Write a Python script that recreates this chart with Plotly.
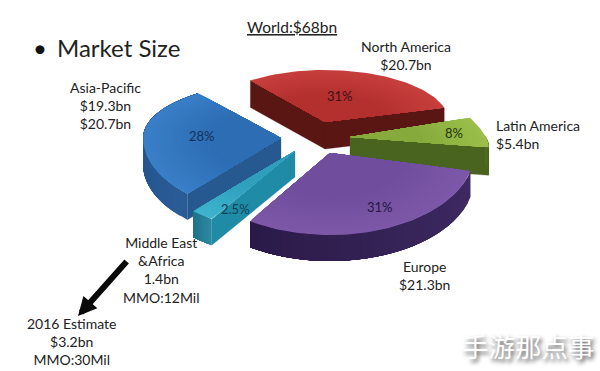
import math
import plotly.graph_objects as go

# ---- data
regions = ["North America", "Latin America", "Europe", "Middle East & Africa", "Asia-Pacific"]
shares = [31, 8, 31, 2.5, 28]
share_labels = ["31%", "8%", "31%", "2.5%", "28%"]
callouts = [
    "North America<br>$20.7bn",
    "Latin America<br>$5.4bn",
    "Europe<br>$21.3bn",
    "Middle East<br>&Africa<br>1.4bn<br>MMO:12Mil",
    "Asia-Pacific<br>$19.3bn<br>$20.7bn",
]
estimate_text = "2016 Estimate<br>$3.2bn<br>MMO:30Mil"
title_text = "<u>World:$68bn</u>"
bullet_text = "Market Size"
watermark = "手游那点事"

# ---- drawing layout (pixel space of the 600x371 page)
START_ANGLE = 127
geom = {  # apex x, apex y, rx, ry back, ry front, depth, shear
    "North America": (325, 122, 124, 52, 60, 27, 0),
    "Latin America": (350, 137, 136, 72, 47, 28, 0.58),
    "Europe": (330, 153, 144, 60, 82, 26, 0),
    "Middle East & Africa": (295, 151, 150, 82, 82, 26, 0),
    "Asia-Pacific": (281, 138, 138, 56, 76, 26, 0),
}
style = {  # top edge, top centre, side light, side dark, radial face, label colour
    "North America": ("#c8403e", "#b3302f", "#7a1f1c", "#4e1210", "#5a1613", "#3c0f10"),
    "Latin America": ("#9cc04a", "#86ab3c", "#5a7a28", "#46621e", "#48641f", "#24340c"),
    "Europe": ("#7e58a8", "#704e9d", "#3f2a63", "#2a1a48", "#2a1a48", "#241545"),
    "Middle East & Africa": ("#3fb4cf", "#2f9fbd", "#2c8ba4", "#1f7189", "#1f8ba6", "#123f55"),
    "Asia-Pacific": ("#3a80c8", "#2d6db4", "#2a5c97", "#1c4a80", "#25598f", "#12305c"),
}
label_pos = {
    "North America": (340, 96),
    "Latin America": (454, 133),
    "Europe": (380, 207),
    "Middle East & Africa": (235, 209),
    "Asia-Pacific": (202, 136),
}
callout_pos = {  # x, y, anchor
    "North America": (406, 55, "center"),
    "Latin America": (494, 134, "left"),
    "Europe": (424, 275, "center"),
    "Middle East & Africa": (161, 270, "center"),
    "Asia-Pacific": (105, 105, "center"),
}
draw_order = ["North America", "Latin America", "Asia-Pacific", "Middle East & Africa", "Europe"]


def rgb(h):
    return tuple(int(h[i:i + 2], 16) for i in (1, 3, 5))


def mix(a, b, t):
    ca, cb = rgb(a), rgb(b)
    return "rgb(%d,%d,%d)" % tuple(round(x + (y - x) * t) for x, y in zip(ca, cb))


def rim(g, deg, f=1.0):
    ax, ay, rx, ryb, ryf, _, k = g
    s = math.sin(math.radians(deg))
    dy = -f * (ryb if s > 0 else ryf) * s
    return ax + f * rx * math.cos(math.radians(deg)) + k * dy, ay + dy


fig = go.Figure()


def poly(xs, ys, color, lw=1.0):
    fig.add_trace(go.Scatter(x=xs, y=ys, mode="lines", fill="toself", fillcolor=color,
                             line=dict(color=color, width=lw), hoverinfo="skip", showlegend=False))


total = sum(shares)
spans = {}
cursor = START_ANGLE
for name, s in zip(regions, shares):
    spans[name] = (cursor, cursor - s / total * 360)
    cursor = spans[name][1]

for name in draw_order:
    g = geom[name]
    a, b = spans[name]
    st = style[name]
    ax, ay, d = g[0], g[1], g[5]
    # radial faces that look toward the viewer
    for ang, nrm in ((a, a + 90), (b, b - 90)):
        if math.sin(math.radians(nrm)) < 0:
            x, y = rim(g, ang)
            poly([ax, x, x, ax, ax], [ay, y, y + d, ay + d, ay], st[4], 0.3)
    # outer wall, split in facets for the shading (overlapping, painted in sequence)
    n = 24
    for i in range(n):
        p = a + (b - a) * i / n
        q = a + (b - a) * (i + 1) / n
        mid = math.sin(math.radians((p + q) / 2))
        if mid < 0.02:
            arc = [rim(g, p + (b - p) * k / 24) for k in range(25)]
            poly([pt[0] for pt in arc] + [pt[0] for pt in reversed(arc)] + [arc[0][0]],
                 [pt[1] for pt in arc] + [pt[1] + d for pt in reversed(arc)] + [arc[0][1]],
                 mix(st[2], st[3], (i + 0.5) / n), 0)
    # top surface, nested for a soft gradient
    rings = 24
    for r in range(rings):
        f = 1 - r / rings * 0.5
        pts = [rim(g, a + (b - a) * i / 60, f) for i in range(61)]
        poly([ax] + [pt[0] for pt in pts] + [ax], [ay] + [pt[1] for pt in pts] + [ay],
             mix(st[0], st[1], min(1, (r + 1) / rings)), 0)

anns = []


def text(x, y, t, size=14, color="#222222", anchor="center", family="Lato", align=None, **kw):
    anns.append(dict(x=x, y=y, xref="x", yref="y", text=t, showarrow=False, xanchor=anchor,
                     yanchor="middle", align=align or anchor,
                     font=dict(size=size, color=color, family=family, **kw)))


for name, lab in zip(regions, share_labels):
    px, py = label_pos[name]
    text(px, py, lab, size=13, color=style[name][5])
for name, c in zip(regions, callouts):
    px, py, anchor = callout_pos[name]
    text(px, py, c, anchor=anchor)
text(71, 341, estimate_text)
text(292, 27, title_text, size=15.5)
text(31, 47, "•", size=24, color="#111111", anchor="left")
text(55, 47, bullet_text, size=24, color="#222222", anchor="left")
text(528, 345, watermark, size=26.5, color="#ffffff", family="Noto Sans CJK SC",
     shadow="2px 3px 4px #555555")

anns.append(dict(x=78, y=316, ax=128, ay=260, xref="x", yref="y", axref="x", ayref="y",
                 text="", showarrow=True, arrowhead=2, arrowsize=0.62, arrowwidth=6,
                 arrowcolor="#0a0a0a"))

fig.update_layout(
    width=600, height=371, margin=dict(l=0, r=0, t=0, b=0),
    paper_bgcolor="white", plot_bgcolor="white", showlegend=False, annotations=anns,
    xaxis=dict(range=[0, 600], visible=False, fixedrange=True),
    yaxis=dict(range=[371, 0], visible=False, fixedrange=True),
)
fig.write_html("out.html", config={"displayModeBar": False},
               post_script="document.body.style.margin='0';document.body.style.overflow='hidden';")
